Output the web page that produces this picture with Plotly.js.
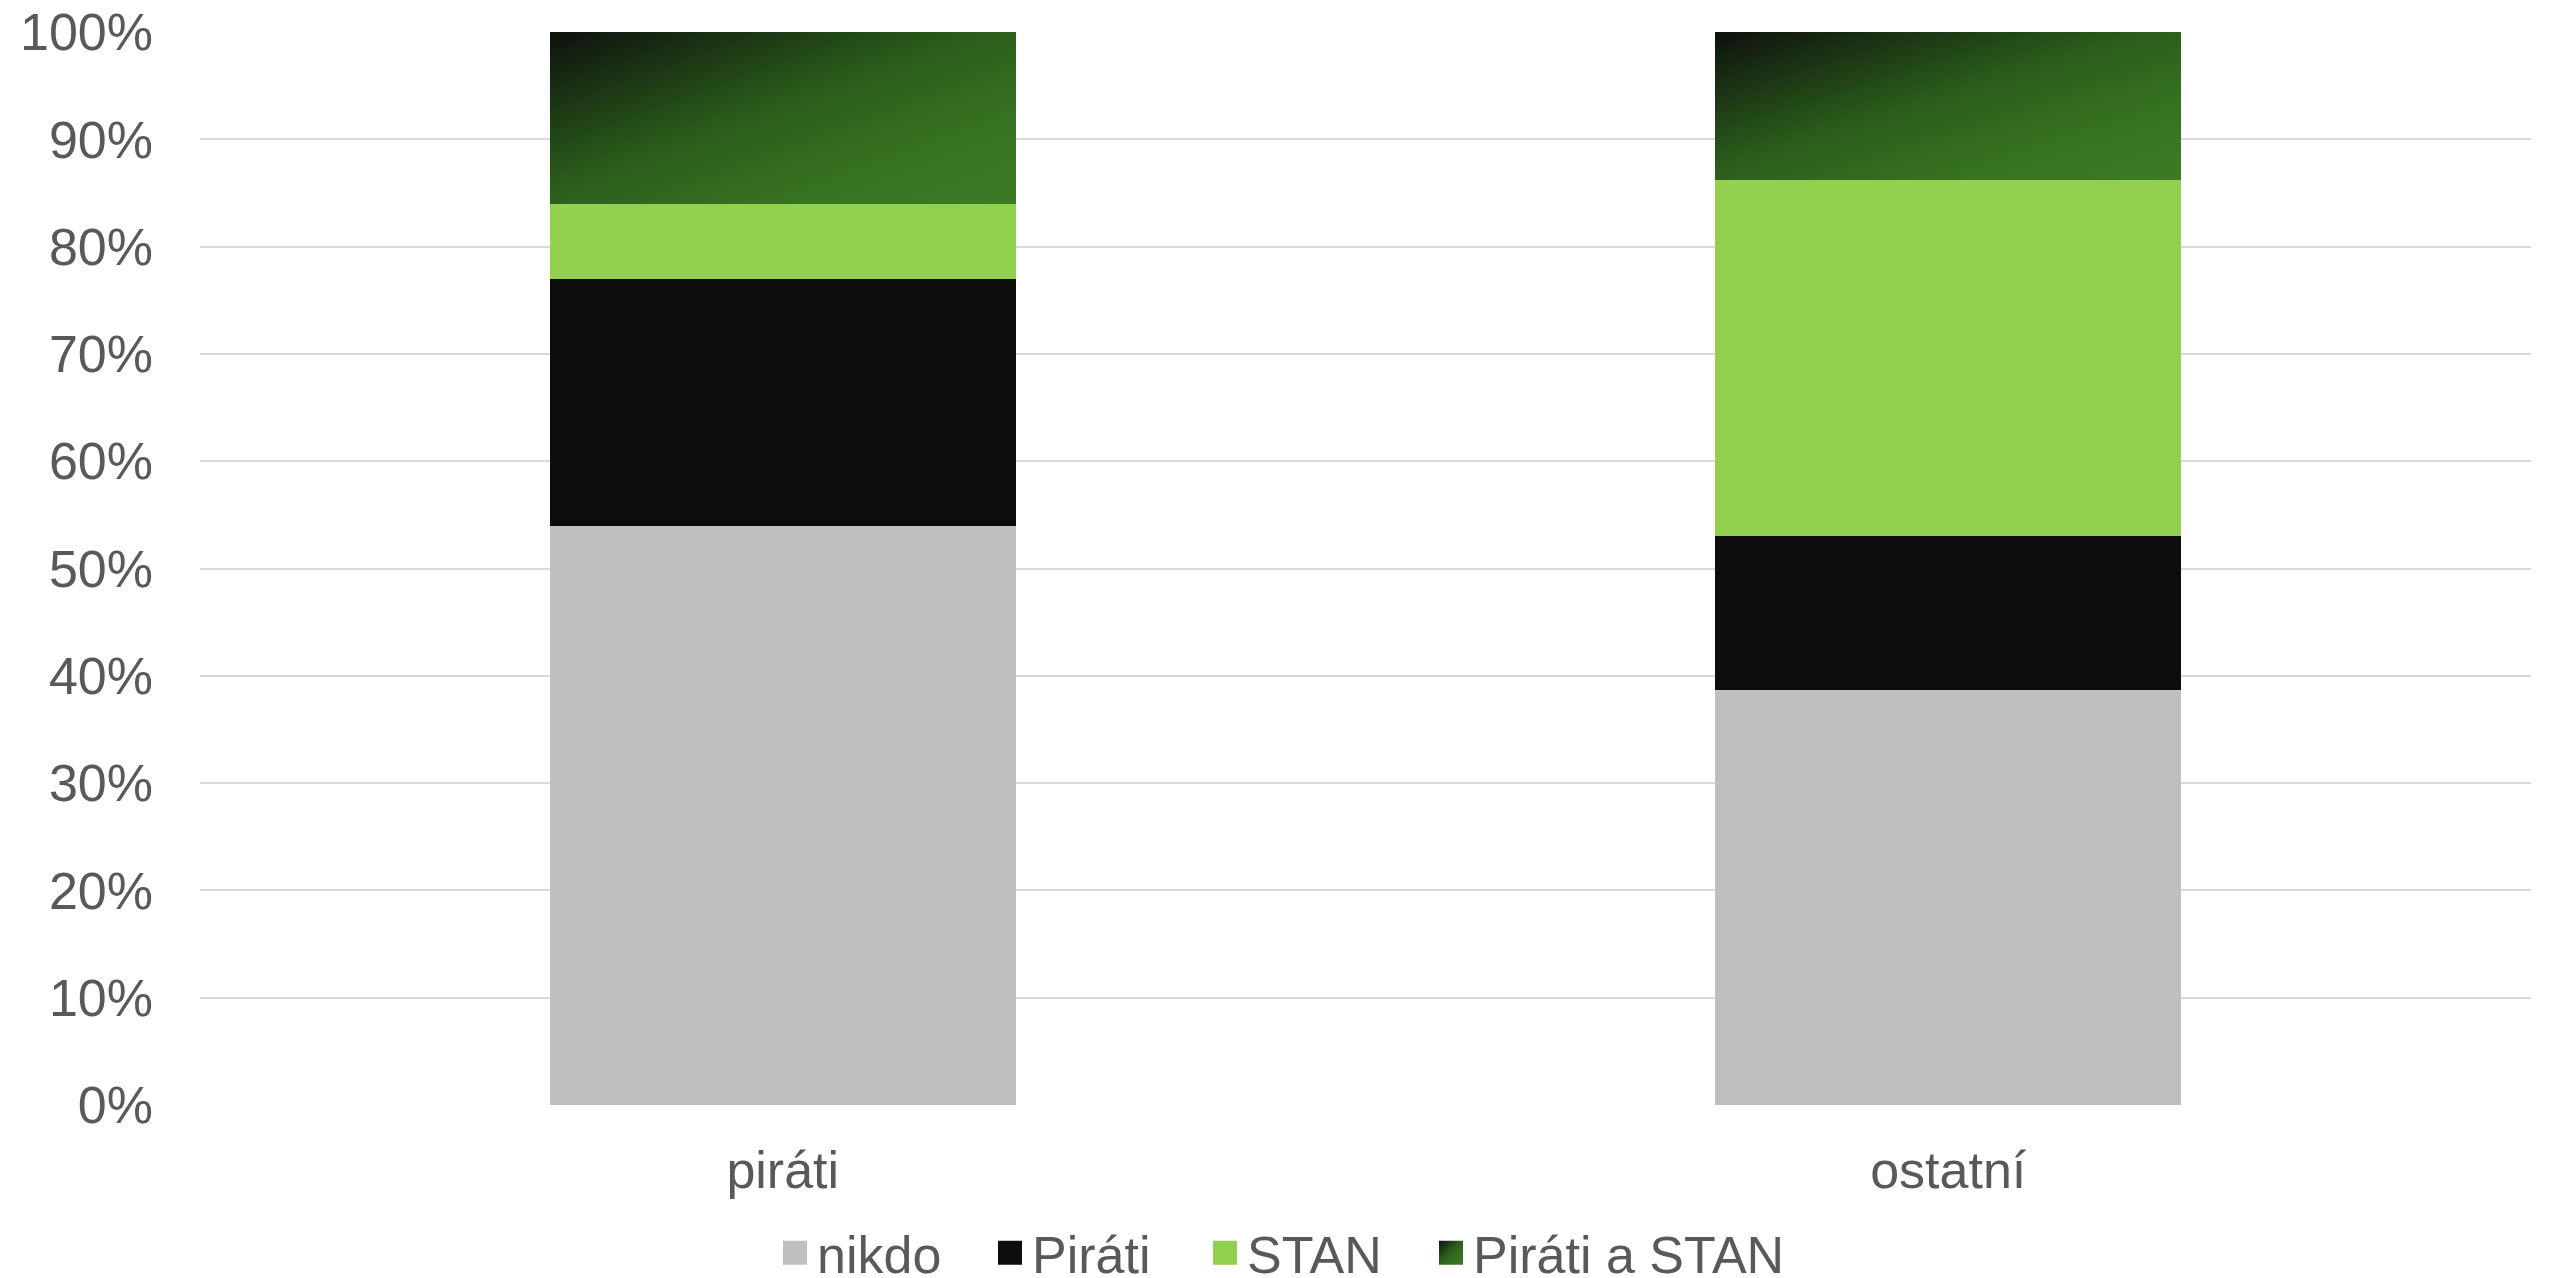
<!DOCTYPE html>
<html>
<head>
<meta charset="utf-8">
<script src="https://cdn.plot.ly/plotly-3.0.1.min.js"></script>
<style>
  html, body { margin: 0; padding: 0; background: #fff; }
  #chart { width: 2552px; height: 1278px; }
</style>
</head>
<body>
<div id="chart"></div>
<script>
const categories = ["piráti", "ostatní"];
const seriesNames = ["nikdo", "Piráti", "STAN", "Piráti a STAN"];
const nikdo = [54.0, 38.7];
const pirati = [23.0, 14.3];
const stan = [7.0, 33.2];
const piratiAStan = [16.0, 13.8];
const tickVals = [0, 10, 20, 30, 40, 50, 60, 70, 80, 90, 100];
const tickText = ["0%", "10%", "20%", "30%", "40%", "50%", "60%", "70%", "80%", "90%", "100%"];

const seriesValues = [nikdo, pirati, stan, piratiAStan];
const colors = ["#BFBFBF", "#0D0D0D", "#92D050", "#2F6A1E"];
const legendIds = ["legend", "legend2", "legend3", "legend4"];
const legendX = [773, 988, 1203, 1429];

const traces = seriesNames.map((name, i) => ({
  type: "bar",
  name: name,
  x: categories,
  y: seriesValues[i],
  legend: legendIds[i],
  marker: { color: colors[i], line: { width: 0 } },
  hoverinfo: "skip"
}));

const font = { family: "Liberation Sans, Arial, sans-serif", size: 52, color: "#595959" };

const layout = {
  width: 2552,
  height: 1278,
  barmode: "stack",
  bargap: 0.6,
  paper_bgcolor: "#ffffff",
  plot_bgcolor: "#ffffff",
  font: font,
  margin: { l: 200, r: 21, t: 32, b: 173, pad: 0 },
  showlegend: true,
  xaxis: {
    type: "category",
    showgrid: false,
    showline: false,
    zeroline: false,
    ticks: "",
    tickfont: font,
    ticklabelstandoff: 30
  },
  yaxis: {
    range: [0, 100],
    tickvals: tickVals,
    ticktext: tickText,
    showgrid: true,
    gridcolor: "#D9D9D9",
    gridwidth: 2,
    zeroline: false,
    showline: false,
    ticks: "",
    tickfont: font,
    ticklabelstandoff: 46,
    fixedrange: true
  }
};

legendIds.forEach((id, i) => {
  layout[id] = {
    orientation: "h",
    xref: "container",
    yref: "container",
    x: legendX[i] / 2552,
    xanchor: "left",
    y: 0.0196,
    yanchor: "middle",
    font: font,
    itemwidth: 34,
    bgcolor: "rgba(0,0,0,0)"
  };
});

Plotly.newPlot("chart", traces, layout, { staticPlot: true, displayModeBar: false }).then(gd => {
  const svg = gd.querySelector("svg.main-svg");
  const ns = "http://www.w3.org/2000/svg";
  let defs = svg.querySelector("defs");
  if (!defs) { defs = document.createElementNS(ns, "defs"); svg.insertBefore(defs, svg.firstChild); }
  const grad = document.createElementNS(ns, "linearGradient");
  grad.setAttribute("id", "psGrad");
  grad.setAttribute("x1", "0"); grad.setAttribute("y1", "0");
  grad.setAttribute("x2", "1"); grad.setAttribute("y2", "1");
  [["0", "#0E110D"], ["0.45", "#2A5C1B"], ["0.75", "#367321"], ["1", "#3C7B24"]].forEach(([o, c]) => {
    const s = document.createElementNS(ns, "stop");
    s.setAttribute("offset", o); s.setAttribute("stop-color", c);
    grad.appendChild(s);
  });
  defs.appendChild(grad);
  const barTraces = gd.querySelectorAll(".barlayer .trace");
  const last = barTraces[barTraces.length - 1];
  if (last) last.querySelectorAll("path").forEach(p => { p.style.fill = "url(#psGrad)"; });
  gd.querySelectorAll(".infolayer .traces").forEach(it => {
    let name = "";
    try { name = it.__data__[0].trace.name; } catch (e) {}
    it.querySelectorAll(".legendpoints path").forEach(pt => {
      pt.setAttribute("d", "M12,12H-12V-12H12Z");
      if (name === seriesNames[3]) pt.style.fill = "url(#psGrad)";
    });
  });
  gd.querySelectorAll(".infolayer .scrollbox").forEach(sb => sb.removeAttribute("clip-path"));
});
</script>
</body>
</html>
